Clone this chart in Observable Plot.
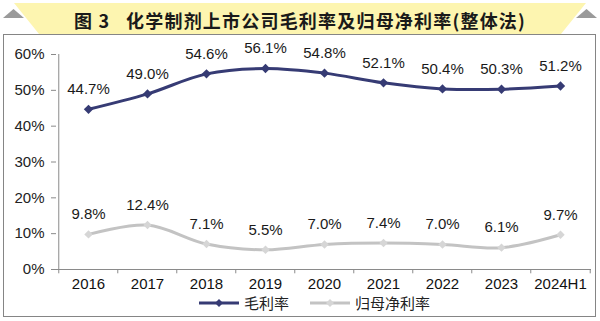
<!DOCTYPE html>
<html>
<head>
<meta charset="utf-8">
<script src="https://cdn.jsdelivr.net/npm/d3@7"></script>
<script src="https://cdn.jsdelivr.net/npm/@observablehq/plot@0.6"></script>
<style>
  html, body { margin: 0; padding: 0; background: #fff; }
  #page { position: relative; width: 600px; height: 321px; overflow: hidden; font-family: "Liberation Sans", Arial, sans-serif; }
  #banner { position: absolute; left: 0; top: 3px; width: 600px; height: 31px; background: #fdf5b0;
    clip-path: polygon(14px 0, 586px 0, 561px 31px, 39px 31px); }
  .tri { position: absolute; top: 9px; width: 21px; height: 9px; background: #9a9a9a;
    clip-path: polygon(50% 0, 100% 100%, 0 100%); border-radius: 3px 3px 0 0; }
  #title { position: absolute; left: 0; top: 7px; width: 600px; text-align: center; font-family: "Noto Sans CJK SC", sans-serif;
    font-weight: 700; font-size: 18px; letter-spacing: 1.2px; color: #1a1a1a; line-height: 26px; }
  #box { position: absolute; left: 3px; top: 34px; width: 591px; height: 281px; border: 1.5px solid #858585; }
  #chart { position: absolute; left: 0; top: 36px; }
  #legend { position: absolute; top: 292px; left: 198px; display: flex; align-items: center; font-family: "Noto Sans CJK SC", sans-serif; font-size: 15px; color: #222; }
  #legend .item { display: flex; align-items: center; margin-right: 20px; }
  #legend svg { margin-right: 4px; }
</style>
</head>
<body>
<div id="page">
  <div id="banner"></div>
  <div class="tri" style="left:3px"></div>
  <div class="tri" style="left:576px"></div>
  <div id="title">图 3&nbsp;&nbsp;&nbsp;化学制剂上市公司毛利率及归母净利率(整体法)</div>
  <div id="box"></div>
  <div id="chart"></div>
  <div id="legend"></div>
</div>
<script>
const years = ["2016", "2017", "2018", "2019", "2020", "2021", "2022", "2023", "2024H1"];
const grossMargin = [44.7, 49.0, 54.6, 56.1, 54.8, 52.1, 50.4, 50.3, 51.2];
const netMargin = [9.8, 12.4, 7.1, 5.5, 7.0, 7.4, 7.0, 6.1, 9.7];
const yTicks = [0, 10, 20, 30, 40, 50, 60];
const seriesNames = ["毛利率", "归母净利率"];
const seriesColors = ["#363b74", "#c3c3c3"];
const markerColors = ["#363b74", "#d6d6d6"];

const gross = years.map((y, i) => ({year: y, value: grossMargin[i]}));
const net = years.map((y, i) => ({year: y, value: netMargin[i]}));

const W = 600, H = 257, mL = 56, mR = 9, mT = 18, mB = 24;
const step = (W - mL - mR) / years.length;
const fontFam = "Liberation Sans, Arial, sans-serif";

const plot = Plot.plot({
  width: W, height: H,
  marginLeft: mL, marginRight: mR, marginTop: mT, marginBottom: mB,
  style: {fontFamily: fontFam, fontSize: "15px", color: "#222", background: "transparent"},
  x: {type: "point", domain: years, padding: 0.5, axis: null},
  y: {domain: [0, 60], ticks: yTicks, tickFormat: d => d + "%", tickSize: 5, tickPadding: 7, label: null},
  marks: [
    Plot.ruleY([0], {stroke: "#8a8a8a", strokeWidth: 1}),
    Plot.ruleX([years[0]], {y1: 0, y2: 60, dx: -step / 2, stroke: "#8a8a8a", strokeWidth: 1}),
    Plot.ruleX(years, {x: d => d, y1: 0, y2: -1.2, dx: -step / 2, stroke: "#8a8a8a"}),
    Plot.ruleX([years[years.length - 1]], {y1: 0, y2: -1.2, dx: step / 2, stroke: "#8a8a8a"}),
    Plot.text(years, {x: d => d, y: 0, dy: 15, text: d => d, fontSize: 15, fill: "#111"}),
    Plot.line(gross, {x: "year", y: "value", stroke: seriesColors[0], strokeWidth: 3, curve: "catmull-rom"}),
    Plot.line(net, {x: "year", y: "value", stroke: seriesColors[1], strokeWidth: 3, curve: "catmull-rom"}),
    Plot.dot(gross, {x: "year", y: "value", symbol: "diamond2", r: 4.2, fill: markerColors[0], stroke: "none"}),
    Plot.dot(net, {x: "year", y: "value", symbol: "diamond2", r: 3.8, fill: markerColors[1], stroke: "none"}),
    Plot.text(gross, {x: "year", y: "value", dy: -20, text: d => d.value.toFixed(1) + "%", fontSize: 15, fill: "#1a1a1a"}),
    Plot.text(net, {x: "year", y: "value", dy: -20, text: d => d.value.toFixed(1) + "%", fontSize: 15, fill: "#1a1a1a"})
  ]
});
document.getElementById("chart").appendChild(plot);

// gray y-axis tick lines
const st = document.createElement("style");
st.textContent = `#chart [aria-label="y-axis"] line, #chart [aria-label="y-axis"] path { stroke: #8a8a8a; }
#chart [aria-label="y-axis tick"] { stroke: #8a8a8a; }`;
document.head.appendChild(st);

const legend = document.getElementById("legend");
seriesNames.forEach((name, i) => {
  const item = document.createElement("div");
  item.className = "item";
  item.innerHTML = `<svg width="42" height="10"><line x1="1" x2="41" y1="5" y2="5" stroke="${seriesColors[i]}" stroke-width="3"/>
    <path d="M21,1 L25,5 L21,9 L17,5 Z" fill="${markerColors[i]}"/></svg><span>${name}</span>`;
  legend.appendChild(item);
});
</script>
</body>
</html>
